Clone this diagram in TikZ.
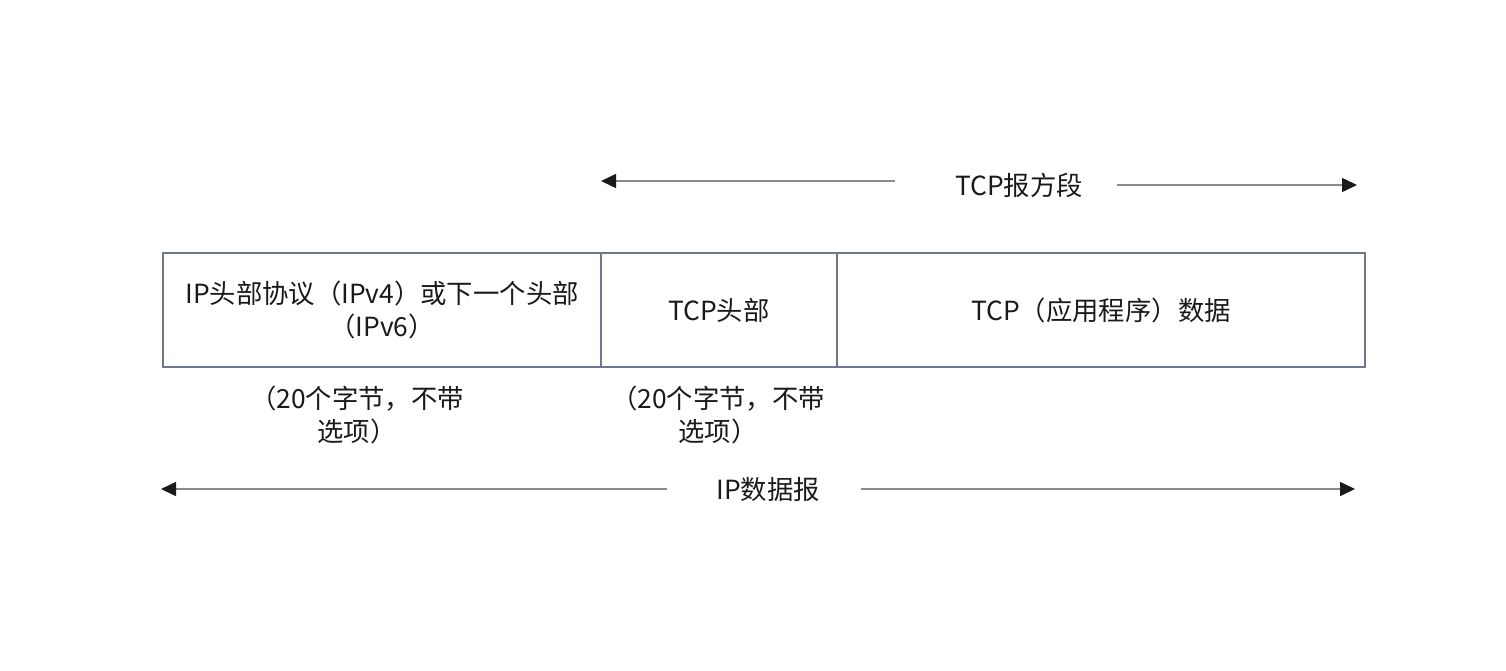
\documentclass[tikz,border=0pt]{standalone}
\usepackage{fontspec}
\setmainfont{Noto Sans CJK SC}
\usetikzlibrary{arrows.meta, positioning}
\definecolor{framec}{HTML}{727590}
\definecolor{linec}{HTML}{8A8A8A}
\definecolor{inkc}{HTML}{1A1A1A}
\tikzset{
  cell/.style={draw=framec, line width=0.8pt, inner sep=0pt, outer sep=0pt, align=center,
               minimum height=2.28cm, text=inkc},
  lbl/.style={font=\fontsize{15}{19}\selectfont, text=inkc, inner sep=1pt, align=center},
  span/.style={-{Triangle[length=0.3cm, width=0.28cm, color=inkc]}, draw=linec, line width=0.85pt},
}

\begin{document}
\begin{tikzpicture}[x=0.02cm, y=-0.02cm]
\useasboundingbox (0,0) rectangle (1506,670);

% the three parts of the datagram
\node[cell, lbl, minimum width=8.76cm] (iphdr) at (382,310) {IP头部协议（IPv4）或下一个头部\\（IPv6）};
\node[cell, lbl, minimum width=4.72cm] (tcphdr) at (719,310) {TCP头部};
\node[cell, lbl, minimum width=10.56cm] (tcpdata) at (1101,310) {TCP（应用程序）数据};

% sizes of the headers
\node[lbl] (ipsize) at (357,415) {（20个字节，不带\\选项）};
\node[lbl] (tcpsize) at (718,415) {（20个字节，不带\\选项）};

% the TCP segment
\node[lbl] (tcpseg) at (1019,185) {TCP报方段};
\coordinate (segLs) at (895,181);
\coordinate (segL) at (601,181);
\coordinate (segRs) at (1117,185);
\coordinate (segR) at (1357,185);
\draw[span] (segLs) -- (segL);
\draw[span] (segRs) -- (segR);

% the IP datagram
\node[lbl] (ipdgram) at (768,489) {IP数据报};
\coordinate (dgLs) at (667,489);
\coordinate (dgL) at (161,489);
\coordinate (dgRs) at (861,489);
\coordinate (dgR) at (1355,489);
\draw[span] (dgLs) -- (dgL);
\draw[span] (dgRs) -- (dgR);
\end{tikzpicture}
\end{document}
